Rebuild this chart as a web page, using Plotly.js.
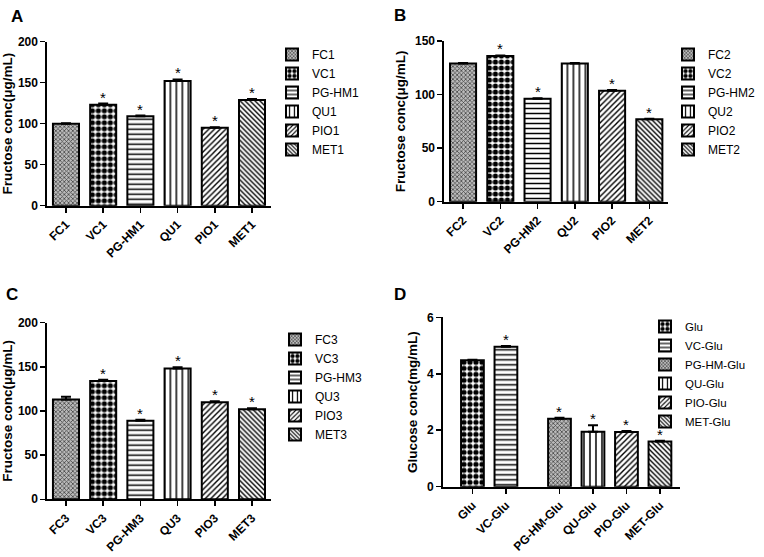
<!DOCTYPE html>
<html>
<head>
<meta charset="utf-8">
<script src="https://cdn.plot.ly/plotly-3.0.1.min.js"></script>
<style>html,body{margin:0;padding:0;background:#fff;}#chart{width:764px;height:557px;}</style>
</head>
<body>
<div id="chart"></div>
<script>
// ---- data ----
const labelsA = ["FC1", "VC1", "PG-HM1", "QU1", "PIO1", "MET1"];
const valuesA = [100, 123, 109, 152, 95, 129];
const errorsA = [0.5, 1.5, 1, 2, 0.8, 1];
const sigA = [0, 1, 1, 1, 1, 1];

const labelsB = ["FC2", "VC2", "PG-HM2", "QU2", "PIO2", "MET2"];
const valuesB = [129, 136, 96, 129, 103.5, 77];
const errorsB = [0.5, 0.5, 0.6, 0.4, 0.8, 0.5];
const sigB = [0, 1, 1, 0, 1, 1];

const labelsC = ["FC3", "VC3", "PG-HM3", "QU3", "PIO3", "MET3"];
const valuesC = [113, 134, 89, 148, 110, 102];
const errorsC = [3, 1.5, 1, 1.5, 1, 1];
const sigC = [0, 1, 1, 1, 1, 1];

const labelsD = ["Glu", "VC-Glu", "PG-HM-Glu", "QU-Glu", "PIO-Glu", "MET-Glu"];
const positionsD = [0, 1, 2.6, 3.6, 4.6, 5.6];
const valuesD = [4.48, 4.96, 2.41, 1.95, 1.94, 1.6];
const errorsD = [0.02, 0.02, 0.03, 0.23, 0.03, 0.03];
const sigD = [0, 1, 1, 1, 1, 1];

// ---- styles ----
const P = {
  fine:  {shape: "x", size: 3, solidity: 0.45, fgcolor: "#444", bgcolor: "#bbb"},
  check: {shape: ".", size: 6, solidity: 0.6, fgcolor: "#000", bgcolor: "#fff"},
  hline: {shape: "-", size: 5, solidity: 0.3, fgcolor: "#000", bgcolor: "#fff"},
  vline: {shape: "|", size: 6, solidity: 0.25, fgcolor: "#000", bgcolor: "#fff"},
  slash: {shape: "/", size: 4, solidity: 0.35, fgcolor: "#000", bgcolor: "#fff"},
  bslash:{shape: "\\", size: 3.5, solidity: 0.4, fgcolor: "#000", bgcolor: "#fff"}
};
const patsABC = [P.fine, P.check, P.hline, P.vline, P.slash, P.bslash];
const patsD = [P.check, P.hline, P.fine, P.vline, P.slash, P.bslash];

const FONT = "Arial, 'Liberation Sans', sans-serif";
const traces = [];
const annotations = [];

function addPanel(labels, xs, values, errors, sig, pats, ax, legendName, barWidth) {
  const xa = "x" + (ax === 1 ? "" : ax), ya = "y" + (ax === 1 ? "" : ax);
  labels.forEach((lab, i) => {
    traces.push({
      type: "bar", name: lab, x: [xs[i]], y: [values[i]],
      xaxis: xa, yaxis: ya, legend: legendName, width: barWidth,
      marker: {color: "#fff", line: {color: "#000", width: 2}, pattern: pats[i]},
      error_y: {type: "data", symmetric: false, array: [errors[i]], arrayminus: [0],
                color: "#000", thickness: 2, width: 5},
      hoverinfo: "x+y"
    });
    if (sig[i]) {
      annotations.push({
        xref: xa, yref: ya, x: xs[i], y: values[i] + errors[i], text: "*",
        showarrow: false, yanchor: "bottom", yshift: -4,
        font: {family: FONT, size: 15, color: "#000"}
      });
    }
  });
}

const idx = [0, 1, 2, 3, 4, 5];
addPanel(labelsA, idx, valuesA, errorsA, sigA, patsABC, 1, "legend", 0.7);
addPanel(labelsB, idx, valuesB, errorsB, sigB, patsABC, 2, "legend2", 0.7);
addPanel(labelsC, idx, valuesC, errorsC, sigC, patsABC, 3, "legend3", 0.7);
addPanel(labelsD, positionsD, valuesD, errorsD, sigD, patsD, 4, "legend4", 0.68);

function xAxis(domain, range, anchor, tickvals, ticktext) {
  return {domain, range, anchor, tickmode: "array", tickvals, ticktext,
    showline: true, linecolor: "#000", linewidth: 2, ticks: "outside", ticklen: 5,
    tickwidth: 1.5, tickcolor: "#000", tickangle: -45, showgrid: false, zeroline: false,
    tickfont: {family: FONT, size: 12, color: "#000", weight: "bold"}, fixedrange: true};
}
function yAxis(domain, range, anchor, dtick, title) {
  return {domain, range, anchor, dtick, showline: true, linecolor: "#000", linewidth: 2,
    ticks: "outside", ticklen: 5, tickwidth: 1.5, tickcolor: "#000", showgrid: false,
    zeroline: false, tickfont: {family: FONT, size: 12, color: "#000", weight: "bold"},
    title: {text: title, font: {family: FONT, size: 13.5, color: "#000", weight: "bold"}, standoff: 6},
    fixedrange: true};
}
function legendAt(x, y, size) {
  return {x: x / 764, y: 1 - y / 557, xanchor: "left", yanchor: "top",
    font: {family: FONT, size, color: "#000"}, bgcolor: "rgba(0,0,0,0)", borderwidth: 0,
    itemclick: false, itemdoubleclick: false};
}

const ylab = "Fructose conc(\u03bcg/mL)";
const letter = (t, x, y) => ({xref: "paper", yref: "paper", x: x / 764, y: 1 - y / 557,
  xanchor: "left", yanchor: "top", text: "<b>" + t + "</b>", showarrow: false,
  font: {family: FONT, size: 17, color: "#000"}});
annotations.push(letter("A", 9, 5), letter("B", 392, 4), letter("C", 4, 283), letter("D", 392, 283));

const layout = {
  width: 764, height: 557, margin: {l: 0, r: 0, t: 0, b: 0},
  paper_bgcolor: "#fff", plot_bgcolor: "#fff", showlegend: true, bargap: 0,
  font: {family: FONT, color: "#000"},
  xaxis:  xAxis([0.0620, 0.3542], [-0.5, 5.5], "y", idx, labelsA),
  yaxis:  yAxis([0.6307, 0.9251], [0, 200], "x", 50, ylab),
  xaxis2: xAxis([0.5817, 0.8743], [-0.5, 5.5], "y2", idx, labelsB),
  yaxis2: yAxis([0.6379, 0.9264], [0, 150], "x2", 50, ylab),
  xaxis3: xAxis([0.0620, 0.3542], [-0.5, 5.5], "y3", idx, labelsC),
  yaxis3: yAxis([0.1036, 0.4207], [0, 200], "x3", 50, ylab),
  xaxis4: xAxis([0.5798, 0.8901], [-0.88, 6.2], "y4", positionsD, labelsD),
  yaxis4: yAxis([0.1262, 0.4303], [0, 6], "x4", 2, "Glucose conc(mg/mL)"),
  legend:  legendAt(272, 40, 12),
  legend2: legendAt(668, 40, 12),
  legend3: legendAt(275, 325, 12),
  legend4: legendAt(645, 312, 11.5),
  annotations
};

Plotly.newPlot("chart", traces, layout, {staticPlot: true, displayModeBar: false});
</script>
</body>
</html>
